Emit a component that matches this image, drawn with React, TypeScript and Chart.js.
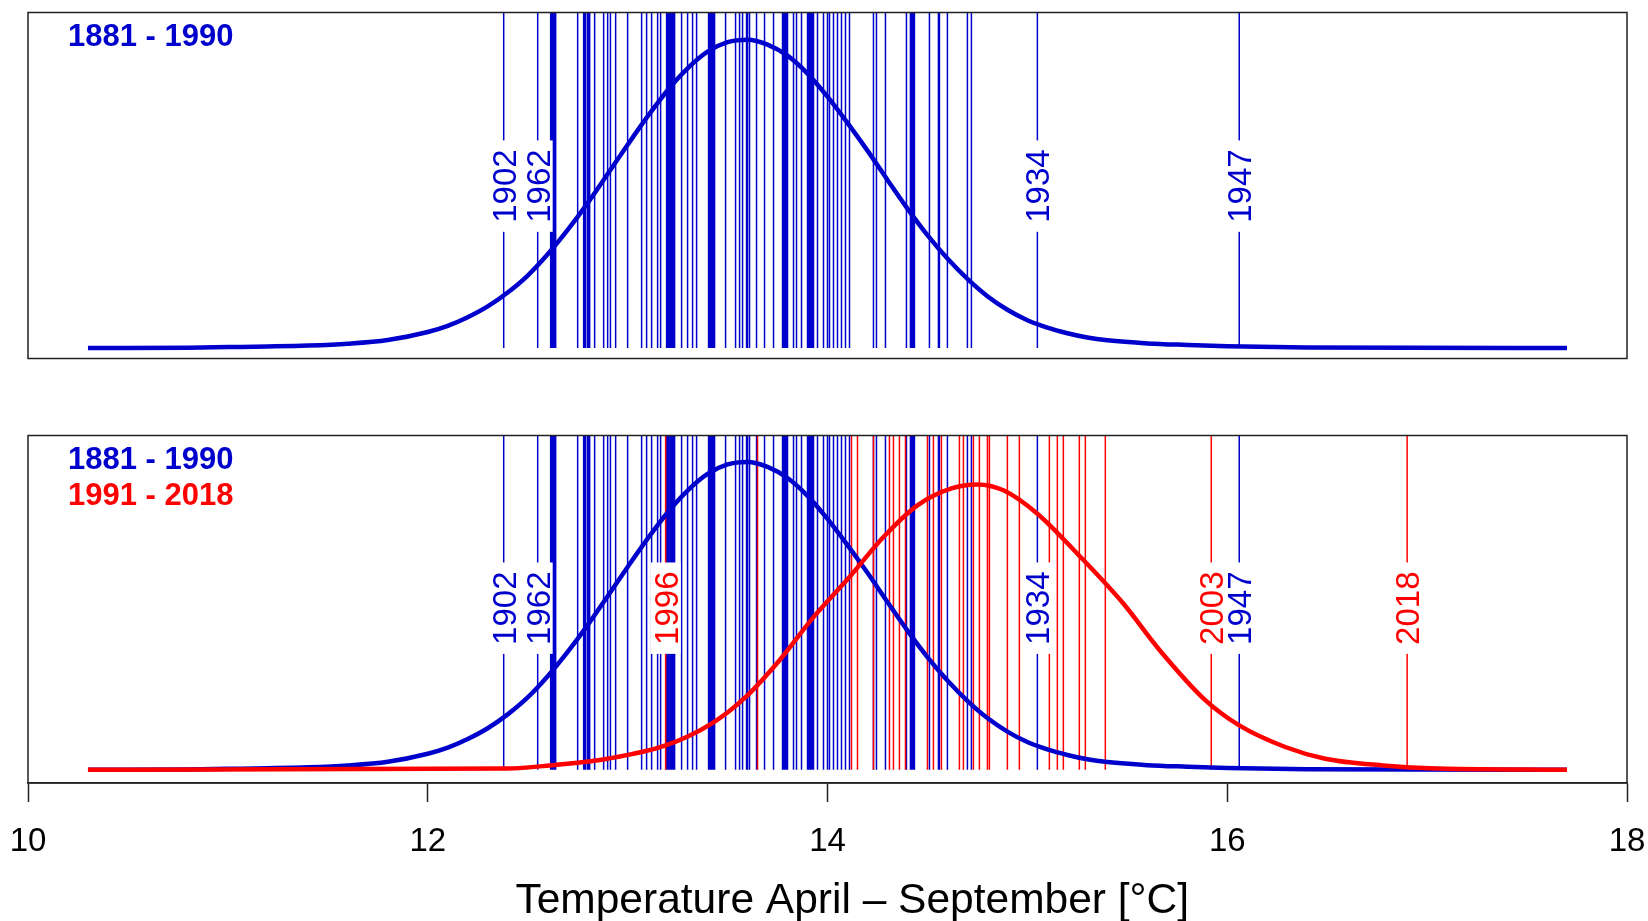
import React, { useEffect, useRef } from "react";
import { Chart, registerables } from "chart.js";

Chart.register(...registerables);

// ---------- data ----------
const xTicks = [10, 12, 14, 16, 18];
const xTitle = "Temperature April \u2013 September [°C]";
const periodBlue = "1881 - 1990";
const periodRed = "1991 - 2018";

// yearly mean temperatures (April-September), 1881-1990
const blueYears = [
  12.38, 12.55,
  12.615, 12.62, 12.625, 12.63, 12.63, 12.635, 12.64,
  12.75,
  12.78, 12.785, 12.79, 12.80, 12.80, 12.805, 12.81,
  12.835, 12.88, 12.90, 12.914, 12.94, 13.00, 13.07, 13.095, 13.12, 13.15, 13.165,
  13.195, 13.20, 13.205, 13.21, 13.21, 13.215, 13.22, 13.22, 13.225, 13.23, 13.23, 13.235,
  13.27, 13.30, 13.325, 13.345,
  13.405, 13.41, 13.415, 13.42, 13.42, 13.425, 13.43, 13.435,
  13.49, 13.54, 13.56, 13.575, 13.595, 13.60, 13.61, 13.645, 13.685, 13.73,
  13.775, 13.78, 13.785, 13.79, 13.79, 13.795, 13.80, 13.80,
  13.83, 13.845, 13.87,
  13.90, 13.905, 13.91, 13.91, 13.915, 13.92, 13.925, 13.93,
  13.95, 13.98, 14.00, 14.01, 14.03, 14.05, 14.07, 14.09, 14.11,
  14.23, 14.245, 14.29,
  14.395, 14.415, 14.42, 14.42, 14.425, 14.43, 14.435,
  14.51, 14.555, 14.56, 14.60, 14.70, 14.72, 15.05, 16.06,
];

// yearly mean temperatures, 1991-2018
const redYears = [
  13.19, 13.65, 14.12, 14.15, 14.23, 14.31, 14.33, 14.36, 14.39, 14.50, 14.53, 14.57,
  14.66, 14.68, 14.73, 14.76, 14.80, 14.81, 14.90, 14.96, 15.11, 15.15, 15.18, 15.26,
  15.29, 15.39, 15.92, 16.90,
];

const blueLabelNames = ["1902", "1962", "1934", "1947"];
const blueLabelTemps = [12.38, 12.55, 15.05, 16.06];
const redLabelNames = ["1996", "2003", "2018"];
const redLabelTemps = [13.19, 15.92, 16.9];

// density curves (relative height)
const blueCurveX = [
  10.3, 10.8, 11.0, 11.2, 11.4, 11.6, 11.8, 12.0, 12.1, 12.2, 12.3, 12.4, 12.5, 12.6, 12.7,
  12.8, 12.9, 13.0, 13.1, 13.2, 13.3, 13.4, 13.5, 13.6, 13.7, 13.8, 13.9, 14.0, 14.1, 14.2,
  14.3, 14.4, 14.5, 14.6, 14.7, 14.8, 14.9, 15.0, 15.1, 15.2, 15.3, 15.4, 15.6, 15.8, 16.0,
  16.4, 17.7,
];
const blueCurveY = [
  0.0, 0.001, 0.003, 0.005, 0.008, 0.014, 0.026, 0.052, 0.072, 0.1, 0.135, 0.18, 0.235,
  0.304, 0.383, 0.47, 0.564, 0.659, 0.751, 0.836, 0.907, 0.961, 0.992, 1.0, 0.984, 0.948,
  0.89, 0.815, 0.73, 0.64, 0.545, 0.452, 0.366, 0.29, 0.224, 0.168, 0.124, 0.09, 0.066,
  0.048, 0.034, 0.025, 0.015, 0.01, 0.006, 0.002, 0.0,
];
const redCurveX = [
  10.3, 12.4, 12.61, 12.9, 13.19, 13.42, 13.59, 13.76, 13.93, 14.11, 14.28, 14.45, 14.62,
  14.75, 14.88, 15.05, 15.25, 15.48, 15.66, 15.89, 16.06, 16.29, 16.49, 16.78, 17.01, 17.7,
];
const redCurveY = [
  0.0, 0.004, 0.014, 0.036, 0.079, 0.15, 0.236, 0.356, 0.496, 0.626, 0.756, 0.859, 0.914,
  0.927, 0.908, 0.832, 0.702, 0.54, 0.39, 0.226, 0.144, 0.074, 0.036, 0.014, 0.005, 0.0,
];

// ---------- styling ----------
const BLUE = "#0000CC";
const RED = "#FF0000";
const FONT = "'Liberation Sans', Arial, Helvetica, sans-serif";
const LABEL_Y = 0.525;
const TOP_Y = { min: -0.034, max: 1.088 };
const BOT_Y = { min: -0.043, max: 1.086 };

function curve(xs: number[], ys: number[]) {
  return xs.map((x, i) => ({ x, y: ys[i] }));
}

function yearLines(temps: number[], top: number) {
  const pts: { x: number; y: number | null }[] = [];
  temps.forEach((t) => {
    pts.push({ x: t, y: 0 }, { x: t, y: top }, { x: t, y: null });
  });
  return pts;
}

type Lab = { name: string; t: number; color: string };
type Leg = { text: string; color: string };

function decor(labels: Lab[], legends: Leg[], withTitle: boolean) {
  return {
    id: "decor",
    afterDatasetsDraw(chart: any) {
      const { ctx, chartArea, scales } = chart;
      const { left, top, right, bottom } = chartArea;
      const x = scales.x;
      const y = scales.y;
      ctx.save();
      ctx.font = `33px ${FONT}`;
      labels.forEach((l) => {
        const px = x.getPixelForValue(l.t);
        const py = y.getPixelForValue(LABEL_Y);
        const w = ctx.measureText(l.name).width;
        ctx.fillStyle = "#ffffff";
        ctx.fillRect(px - 15, py - w / 2 - 9, 30, w + 18);
      });
      labels.forEach((l) => {
        const px = x.getPixelForValue(l.t);
        const py = y.getPixelForValue(LABEL_Y);
        ctx.save();
        ctx.translate(px, py);
        ctx.rotate(-Math.PI / 2);
        ctx.fillStyle = l.color;
        ctx.textAlign = "center";
        ctx.textBaseline = "alphabetic";
        ctx.fillText(l.name, 0, 12);
        ctx.restore();
      });
      ctx.font = `bold 31px ${FONT}`;
      ctx.textAlign = "left";
      ctx.textBaseline = "middle";
      legends.forEach((lg, i) => {
        ctx.fillStyle = lg.color;
        ctx.fillText(lg.text, left + 40, top + 25 + i * 35.7);
      });
      ctx.strokeStyle = "#222222";
      ctx.lineWidth = 1.5;
      ctx.strokeRect(left, top, right - left, bottom - top);
      if (withTitle) {
        ctx.font = `42.5px ${FONT}`;
        ctx.fillStyle = "#000000";
        ctx.textAlign = "center";
        ctx.textBaseline = "alphabetic";
        ctx.fillText(xTitle, left + (right - left) * 0.5155, bottom + 130);
      }
      ctx.restore();
    },
  };
}

const lineStyle = { pointRadius: 0, fill: false, spanGaps: false, borderWidth: 1.5 };
const curveStyle = { pointRadius: 0, fill: false, borderWidth: 4.5, cubicInterpolationMode: "monotone" as const };

export default function App() {
  const topRef = useRef<HTMLCanvasElement | null>(null);
  const botRef = useRef<HTMLCanvasElement | null>(null);

  useEffect(() => {
    const topChart = new Chart(topRef.current as HTMLCanvasElement, {
      type: "line",
      data: {
        datasets: [
          { ...curveStyle, data: curve(blueCurveX, blueCurveY), borderColor: BLUE },
          { ...lineStyle, data: yearLines(blueYears, TOP_Y.max), borderColor: BLUE },
        ] as any,
      },
      options: {
        animation: false,
        responsive: false,
        maintainAspectRatio: false,
        events: [],
        layout: { padding: { left: 28, right: 21, top: 12.5, bottom: 21.5 } },
        scales: {
          x: { type: "linear", min: 10, max: 18, display: false },
          y: { type: "linear", min: TOP_Y.min, max: TOP_Y.max, display: false },
        },
        plugins: { legend: { display: false }, tooltip: { enabled: false } },
      },
      plugins: [
        decor(
          blueLabelNames.map((n, i) => ({ name: n, t: blueLabelTemps[i], color: BLUE })),
          [{ text: periodBlue, color: BLUE }],
          false
        ),
      ],
    });

    const botLabels: Lab[] = [
      ...blueLabelNames.map((n, i) => ({ name: n, t: blueLabelTemps[i], color: BLUE })),
      ...redLabelNames.map((n, i) => ({ name: n, t: redLabelTemps[i], color: RED })),
    ];

    const botChart = new Chart(botRef.current as HTMLCanvasElement, {
      type: "line",
      data: {
        datasets: [
          { ...curveStyle, data: curve(redCurveX, redCurveY), borderColor: RED },
          { ...curveStyle, data: curve(blueCurveX, blueCurveY), borderColor: BLUE },
          { ...lineStyle, data: yearLines(redYears, BOT_Y.max), borderColor: RED },
          { ...lineStyle, data: yearLines(blueYears, BOT_Y.max), borderColor: BLUE },
        ] as any,
      },
      options: {
        animation: false,
        responsive: false,
        maintainAspectRatio: false,
        events: [],
        layout: { padding: { left: 28, right: 21, top: 55.5, bottom: 0 } },
        scales: {
          x: {
            type: "linear",
            min: 10,
            max: 18,
            afterBuildTicks: (s: any) => {
              s.ticks = xTicks.map((v) => ({ value: v }));
            },
            grid: {
              drawOnChartArea: false,
              drawTicks: true,
              tickLength: 19,
              tickColor: "#222222",
              tickWidth: 1.5,
            },
            border: { display: true, color: "#222222", width: 1.5 },
            ticks: {
              font: { family: FONT, size: 33, lineHeight: 1 },
              color: "#000000",
              padding: 23,
              maxRotation: 0,
              autoSkip: false,
            },
            title: { display: false, text: xTitle },
            afterFit: (s: any) => {
              s.height = 138;
              s.paddingLeft = 0;
              s.paddingRight = 0;
            },
          },
          y: { type: "linear", min: BOT_Y.min, max: BOT_Y.max, display: false },
        },
        plugins: { legend: { display: false }, tooltip: { enabled: false } },
      },
      plugins: [
        decor(
          botLabels,
          [
            { text: periodBlue, color: BLUE },
            { text: periodRed, color: RED },
          ],
          true
        ),
      ],
    });

    return () => {
      topChart.destroy();
      botChart.destroy();
    };
  }, []);

  return (
    <div
      style={{
        position: "fixed",
        left: 0,
        top: 0,
        width: 1648,
        height: 921,
        background: "#ffffff",
        overflow: "hidden",
      }}
    >
      <canvas ref={topRef} width={1648} height={380} style={{ position: "absolute", left: 0, top: 0 }} />
      <canvas ref={botRef} width={1648} height={541} style={{ position: "absolute", left: 0, top: 380 }} />
    </div>
  );
}
